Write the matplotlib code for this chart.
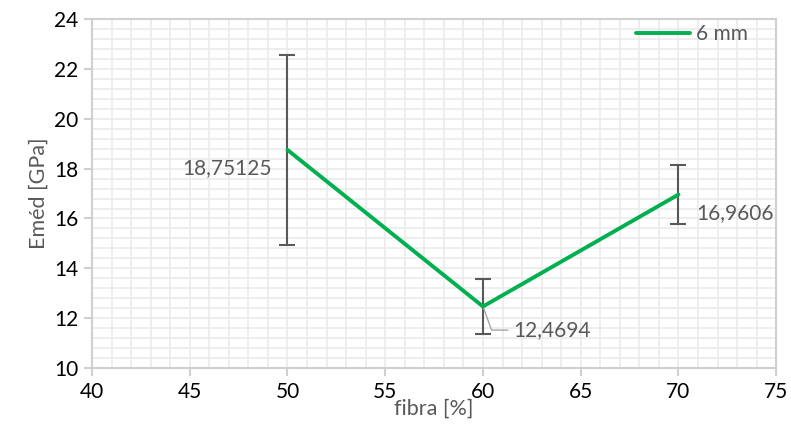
import numpy as np
import matplotlib.pyplot as plt
from matplotlib.ticker import MultipleLocator

plt.rcParams['font.family'] = ['Lato', 'DejaVu Sans']

fibra = [50, 60, 70]
emed = [18.75125, 12.4694, 16.9606]
err = [3.8, 1.12, 1.18]
labels = ["18,75125", "12,4694", "16,9606"]
series = "6 mm"

txt = '#595959'
green = '#00B050'

fig = plt.figure(figsize=(7.91, 4.34), dpi=100)
ax = fig.add_axes([0.1163, 0.152, 0.865, 0.804])

ax.errorbar(fibra, emed, yerr=err, fmt='none', ecolor='#595959', elinewidth=1.5,
            capsize=6, capthick=1.5, zorder=3)
ax.plot(fibra, emed, color=green, lw=2.8, label=series, zorder=4,
        solid_capstyle='round')

# data labels
ax.annotate(labels[0], (fibra[0], emed[0]), xytext=(-11, -13), textcoords='offset points',
            ha='right', va='center', fontsize=15, color=txt)
ax.annotate(labels[1], (fibra[1], emed[1]), xytext=(22, -17), textcoords='offset points',
            ha='left', va='center', fontsize=15, color=txt,
            arrowprops=dict(arrowstyle='-', color='#A6A6A6', lw=1,
                            shrinkA=2, shrinkB=1,
                            connectionstyle='angle,angleA=0,angleB=110,rad=0'))
ax.annotate(labels[2], (fibra[2], emed[2]), xytext=(13, -13), textcoords='offset points',
            ha='left', va='center', fontsize=15, color=txt)

ax.set_xlim(40, 75)
ax.set_ylim(10, 24)
ax.xaxis.set_major_locator(MultipleLocator(5))
ax.xaxis.set_minor_locator(MultipleLocator(1))
ax.yaxis.set_major_locator(MultipleLocator(2))
ax.yaxis.set_minor_locator(MultipleLocator(0.4))
ax.grid(which='both', color='#EBEBEB', lw=1.2, zorder=0)
ax.set_axisbelow(True)

for s in ax.spines.values():
    s.set_color('#D0D0D0')
    s.set_linewidth(1.5)
ax.tick_params(which='major', length=6, width=1.5, color='#D0D0D0', labelsize=15,
               labelcolor='black', pad=4)
ax.tick_params(which='minor', length=0)

ax.set_xlabel('fibra [%]', fontsize=15.5, color=txt, labelpad=-2)
ax.set_ylabel('Eméd [GPa]', fontsize=15.5, color=txt, labelpad=4)

leg = ax.legend(loc='upper right', bbox_to_anchor=(0.959, 0.985), frameon=False,
                fontsize=15, handlelength=2.6, handletextpad=0.3,
                borderaxespad=0, borderpad=0)
for t in leg.get_texts():
    t.set_color(txt)

fig.savefig('out.png', dpi=100)
